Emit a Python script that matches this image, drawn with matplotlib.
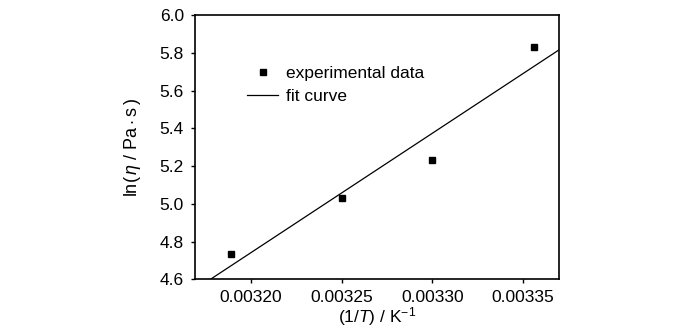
import numpy as np
import matplotlib
matplotlib.use("Agg")
import matplotlib.pyplot as plt
from matplotlib import font_manager

names = {f.name for f in font_manager.fontManager.ttflist}
fam = 'Liberation Sans Narrow' if 'Liberation Sans Narrow' in names else 'Liberation Sans'
plt.rcParams['font.family'] = [fam, 'DejaVu Sans']
plt.rcParams['mathtext.fontset'] = 'custom'
plt.rcParams['mathtext.rm'] = fam
plt.rcParams['mathtext.it'] = fam + ':italic'

# data
inv_T = [0.003189, 0.003250, 0.003300, 0.003356]
ln_eta = [4.736, 5.033, 5.230, 5.831]
x_ticks = [0.00320, 0.00325, 0.00330, 0.00335]
x_tick_labels = ["0.00320", "0.00325", "0.00330", "0.00335"]
y_ticks = [4.6, 4.8, 5.0, 5.2, 5.4, 5.6, 5.8, 6.0]
y_tick_labels = ["4.6", "4.8", "5.0", "5.2", "5.4", "5.6", "5.8", "6.0"]
xlim = (0.003169, 0.003370)
ylim = (4.6, 6.0)

fig = plt.figure(figsize=(7, 3.32), dpi=100)
ax = fig.add_axes([195/700, 1-279.3/332, (559-195)/700, (279.3-15)/332])

ax.plot(inv_T, ln_eta, 's', color='black', markersize=4, label='experimental data', zorder=3)
slope, intercept = np.polyfit(inv_T, ln_eta, 1)
xf = np.array(xlim)
ax.plot(xf, slope*xf + intercept, '-', color='black', lw=0.9, label='fit curve')

ax.set_xlim(*xlim)
ax.set_ylim(*ylim)
ax.set_xticks(x_ticks)
ax.set_xticklabels(x_tick_labels)
ax.set_yticks(y_ticks)
ax.set_yticklabels(y_tick_labels)
ax.tick_params(direction='out', length=3, width=1, labelsize=12.5)
ax.tick_params(axis='y', pad=5)
ax.tick_params(axis='x', pad=5)
for s in ax.spines.values():
    s.set_linewidth(1.2)

ax.set_xlabel(r"$\mathrm{(1/}\mathit{T}\mathrm{)\ /\ K}^{-1}$", fontsize=12.5, labelpad=0)
ax.set_ylabel(r"$\mathrm{ln(\,}\mathit{\eta}\mathrm{\ /\ Pa\cdot s\,)}$", fontsize=13, labelpad=12)

leg = ax.legend(loc='upper left', bbox_to_anchor=(0.125, 0.835), frameon=False,
                fontsize=12.5, handlelength=1.75, handletextpad=0.45,
                labelspacing=0.45, borderaxespad=0)

fig.savefig("out.png", dpi=100)
